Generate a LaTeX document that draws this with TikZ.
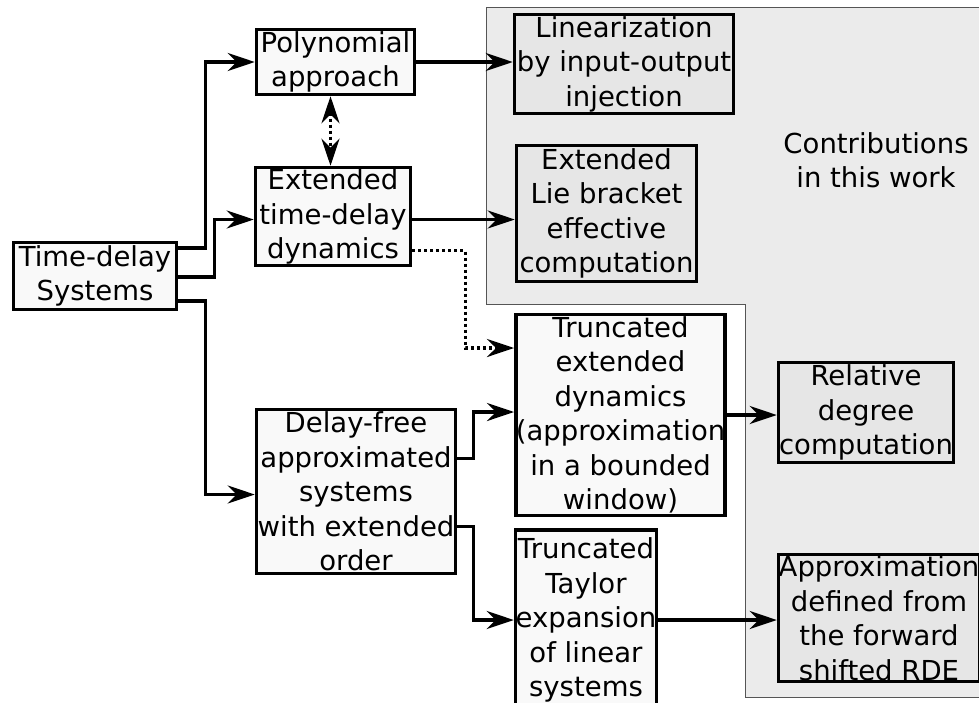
\documentclass[tikz,border=0pt]{standalone}
\usepackage{fontspec}
\setmainfont{DejaVu Sans}
\usetikzlibrary{arrows.meta}
\definecolor{bgray}{HTML}{EBEBEB}
\definecolor{ngray}{HTML}{E6E6E6}
\definecolor{nwhite}{HTML}{F9F9F9}
\definecolor{edgegray}{HTML}{555555}
\begin{document}
\begin{tikzpicture}[x=1pt,y=-1pt,
  box/.style={draw=black,line width=3.5pt,fill=nwhite,align=center,inner sep=0pt,
     font=\fontsize{27.5}{34.5}\selectfont},
  gbox/.style={box,fill=ngray},
  arr/.style={line width=3.5pt,-{Stealth[length=27pt,width=18pt,inset=9pt]}},
  dots/.style={line width=3.5pt,dash pattern=on 3pt off 3pt},
  lbl/.style={align=center,inner sep=0pt,font=\fontsize{27.5}{34.5}\selectfont}]
\useasboundingbox (0,0) rectangle (979,702);
% background region
\fill[bgray] (486,7) -- (990,7) -- (990,697) -- (745,697) -- (745,304) -- (486,304) -- cycle;
\draw[edgegray,line width=1pt] (990,7) -- (486,7) -- (486,304) -- (745,304) -- (745,697) -- (990,697);
% nodes
\node[box,minimum width=163pt,minimum height=67pt] (td) at (95,276) {Time-delay\\Systems};
\node[box,minimum width=158pt,minimum height=65pt] (poly) at (335.5,62) {Polynomial\\approach};
\node[box,minimum width=155pt,minimum height=98pt] (ext) at (333,216.5) {Extended\\time-delay\\dynamics};
\node[gbox,minimum width=219pt,minimum height=99pt] (lin) at (624,64) {Linearization\\by input-output\\injection};
\node[gbox,minimum width=180pt,minimum height=136pt] (lie) at (606.5,213.5) {Extended\\Lie bracket\\effective\\computation};
\node[lbl] (contrib) at (876,160) {Contributions\\in this work};
\node[box,minimum width=208pt,minimum height=201pt] (te) at (620.5,415) {Truncated\\extended\\dynamics\\(approximation\\in a bounded\\window)};
\node[gbox,minimum width=175pt,minimum height=100pt] (rd) at (866,412.5) {Relative\\degree\\computation};
\node[box,minimum width=199pt,minimum height=164pt] (df) at (356,491.5) {Delay-free\\approximated\\systems\\with extended\\order};
\node[box,minimum width=141pt,minimum height=180pt] (tay) at (586,620) {Truncated\\Taylor\\expansion\\of linear\\systems};
\node[gbox,minimum width=201pt,minimum height=127pt] (ap) at (879,618) {Approximation\\defined from\\the forward\\shifted RDE};
% connectors
\draw[arr] ([yshift=28pt]td.east) -- ++(27,0) |- (poly.west);
\draw[arr] ([yshift=-1pt]td.east) -- ++(36,0) |- ([yshift=-3pt]ext.west);
\draw[arr] ([yshift=-25pt]td.east) -- ++(27,0) |- ([yshift=-3pt]df.west);
\draw[arr] (poly.east) -- (poly.east -| lin.west);
\draw[arr] ([yshift=-3pt]ext.east) -- ([yshift=-3pt]ext.east -| lie.west);
\draw[dots,-{Stealth[length=27pt,width=18pt,inset=9pt]}] ([yshift=-34pt]ext.east) -- ++(53,0) |- ([yshift=67pt]te.west);
\draw[dots,{Stealth[length=27pt,width=18pt,inset=9pt]}-{Stealth[length=27pt,width=18pt,inset=9pt]}] ([xshift=-5pt]poly.south) -- ([xshift=-5pt]poly.south |- ext.north);
\draw[arr] ([yshift=33pt]df.east) -- ++(16,0) |- ([yshift=3pt]te.west);
\draw[arr] ([yshift=-35pt]df.east) -- ++(16,0) |- (tay.west);
\draw[arr] (te.east) -- (te.east -| rd.west);
\draw[arr] (tay.east) -- (tay.east -| ap.west);
\end{tikzpicture}
\end{document}
